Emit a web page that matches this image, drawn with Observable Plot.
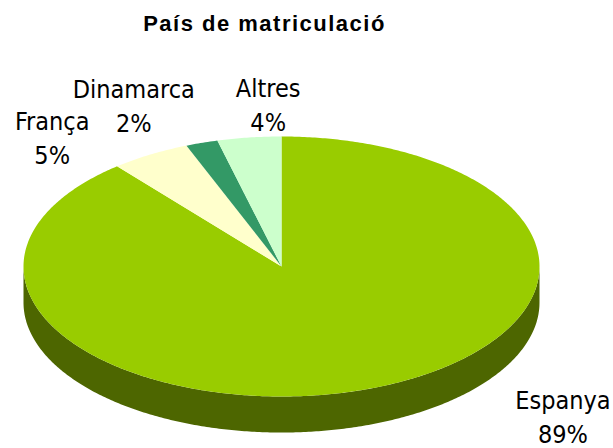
<!DOCTYPE html>
<html>
<head>
<meta charset="utf-8">
<style>html,body{margin:0;padding:0;background:#fff}svg{display:block}.chart-title{letter-spacing:1.5px}</style>
<script src="https://cdn.jsdelivr.net/npm/d3@7"></script>
<script src="https://cdn.jsdelivr.net/npm/@observablehq/plot@0.6"></script>
</head>
<body>
<div id="chart"></div>
<script>
const chartTitle = "País de matriculació";
const categories = ["Espanya", "França", "Dinamarca", "Altres"];
const shares = [89, 5, 2, 4];
const colors = ["#99cc00", "#ffffcc", "#339966", "#ccffcc"];
const wallColor = "#4d6600";

// layout: pixel offsets of each label from the middle of its slice's rim
const labelDx = [194, -98, -68, 19];
const labelDy = [26, -18, -39, -34];
const depth = 0.277; // thickness of the disc, in pie radii

const total = d3.sum(shares);
const turn = 2 * Math.PI;
const rim = (a, r = 1) => ({ u: r * Math.sin(a), v: r * Math.cos(a) });
const sweep = (a0, a1) => {
  const n = Math.max(2, Math.ceil((a1 - a0) / 0.01));
  return d3.range(n + 1).map((i) => a0 + (a1 - a0) * (i / n));
};

let running = 0;
const slices = categories.map((name, i) => {
  const a0 = (running / total) * turn;
  running += shares[i];
  const a1 = (running / total) * turn;
  return { name, a0, a1, mid: (a0 + a1) / 2, share: shares[i] };
});

const slicePoints = slices.flatMap((s) => [
  { name: s.name, u: 0, v: 0 },
  ...sweep(s.a0, s.a1).map((a) => ({ name: s.name, ...rim(a) }))
]);

const front = sweep(turn / 4, (3 * turn) / 4);
const wallPoints = [
  ...front.map((a) => rim(a)),
  ...front.slice().reverse().map((a) => { const p = rim(a); return { u: p.u, v: p.v - depth }; })
];

const plot = Plot.plot({
  width: 613,
  height: 448,
  margin: 0,
  style: { background: "#fff", overflow: "visible" },
  x: { domain: [-1, 1], range: [23, 539], axis: null },
  y: { domain: [-1, 1], range: [396, 136], axis: null },
  color: { domain: categories, range: colors },
  marks: [
    Plot.line(wallPoints, { x: "u", y: "v", fill: wallColor, stroke: null }),
    Plot.line(slicePoints, { x: "u", y: "v", z: "name", fill: "name", stroke: null, curve: "linear" }),
    ...slices.map((s, i) =>
      Plot.text([s], {
        x: (d) => rim(d.mid).u,
        y: (d) => rim(d.mid).v,
        text: (d) => `${d.name}\n${d.share}%`,
        dx: labelDx[i],
        dy: labelDy[i],
        lineHeight: 1.36,
        fontSize: 25,
        fontFamily: "DejaVu Sans Condensed, DejaVu Sans",
        fill: "#000"
      })
    ),
    Plot.text([chartTitle], {
      frameAnchor: "top-left",
      dx: 264,
      dy: 23,
      text: (d) => d,
      textAnchor: "middle",
      fontSize: 22,
      fontWeight: "bold",
      fontFamily: "Liberation Sans",
      lineAnchor: "middle",
      fill: "#000",
      className: "chart-title"
    })
  ]
});
document.getElementById("chart").append(plot);
</script>
</body>
</html>
